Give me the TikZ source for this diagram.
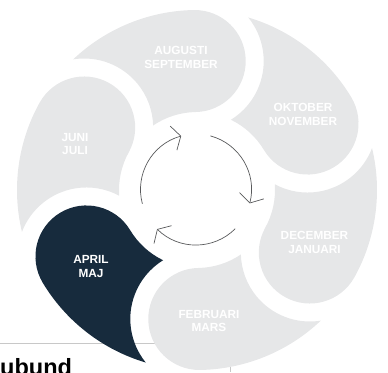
\documentclass[tikz,border=0pt]{standalone}
\usepackage{fontspec}
\setmainfont{Liberation Sans}
\usepackage{tikz}
\usetikzlibrary{arrows.meta}
\definecolor{petalgray}{HTML}{E6E7E8}
\definecolor{petaldark}{HTML}{172B3D}
\definecolor{arrowgray}{HTML}{58595B}
\definecolor{rulegray}{HTML}{C8C8C8}
\tikzstyle{month} = [text=white, align=center, inner sep=0pt,
    font=\bfseries\fontsize{11.8}{13.7}\selectfont]
\tikzstyle{circarrow} = [draw=arrowgray, line width=0.7pt,
    -{Straight Barb[length=7.5pt, width=25pt]}]

\begin{document}
\begin{tikzpicture}[x=1pt, y=1pt]
  \useasboundingbox (-197,-182) rectangle (191,190);
  \clip (-197,-182) rectangle (191,190);
  % Page rule and heading under the wheel
  \draw [rulegray, line width=0.8pt] (-197,-153.5) -- (33,-153.5) -- (33,-182);
  \node [anchor=base west, inner sep=0pt,
    font=\bfseries\fontsize{23.5}{28}\selectfont] (heading) at (-197,-185.5) {ubund};
  % Draw petals (bulb at \ang, tail running on to the next bulb)
  \foreach \ang/\col in {91/petalgray, 31/petalgray, -29/petalgray,
      -89/petalgray, -149/petaldark, 151/petalgray}
    \fill [\col, rotate=\ang] (0:180) arc[start angle=0, end angle=42.47, radius=180]
      arc[start angle=8.17, end angle=-89.36, radius=69]
      arc[start angle=33.2, end angle=0, radius=78]
      arc[start angle=180, end angle=360, radius=51] -- cycle;
  % Place nodes
  \node [month] (augusti) at (-16,132.5) {AUGUSTI\\SEPTEMBER};
  \node [month] (oktober) at (106,75.5) {OKTOBER\\NOVEMBER};
  \node [month] (december) at (117.5,-52.5) {DECEMBER\\JANUARI};
  \node [month] (februari) at (12,-131) {FEBRUARI\\MARS};
  \node [month] (april) at (-106,-76.5) {APRIL\\MAJ};
  \node [month] (juni) at (-122,46) {JUNI\\JULI};
  % Draw cycle arrows
  \coordinate (hub) at (-1,0.5);
  \foreach \k in {0,1,2}
    \draw [circarrow, shift={(hub)}] ({195-120*\k}:55.5)
      arc[start angle={195-120*\k}, end angle={105.5-120*\k}, radius=55.5];
\end{tikzpicture}
\end{document}
